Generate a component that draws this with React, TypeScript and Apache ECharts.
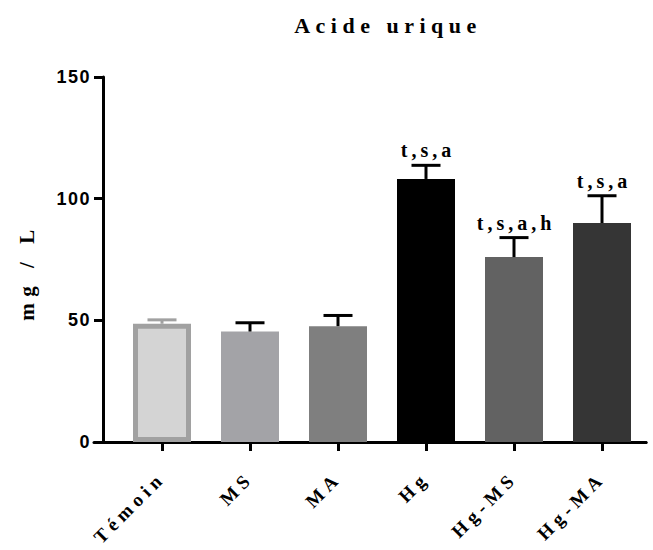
import React, { useEffect, useRef } from 'react';
import * as echarts from 'echarts';

const categories = ['Témoin', 'MS', 'MA', 'Hg', 'Hg-MS', 'Hg-MA'];
const means = [48.6, 45.4, 47.6, 108.1, 76.0, 90.0];
const errorTops = [50.2, 49.0, 52.0, 113.7, 84.0, 101.2];
const annotations = ['', '', '', 't,s,a', 't,s,a,h', 't,s,a'];
const barColors = ['#d4d4d4', '#a3a3a7', '#7f7f7f', '#000000', '#626262', '#353535'];
const yMin = 0;
const yMax = 150;
const yInterval = 50;

const css = `
.uric-chart text[style*="22px"] { letter-spacing: 5.5px; }
.uric-chart text[style*="21px"] { letter-spacing: 6.5px; }
.uric-chart text[style*="20px"] { letter-spacing: 4px; }
.uric-chart text[style*="19px"] { letter-spacing: 5px; }
.uric-chart text[style*="18px"] { letter-spacing: 1.5px; }
`;

export default function App() {
  const ref = useRef<HTMLDivElement>(null);
  useEffect(() => {
    document.body.style.margin = '0';
    const chart = echarts.init(ref.current!, undefined, { renderer: 'svg' });
    const serifBold = 'bold 20px "Liberation Serif"';
    chart.setOption({
      animation: false,
      backgroundColor: '#ffffff',
      title: {
        text: 'Acide urique',
        left: 383,
        top: 9,
        textAlign: 'center',
        textStyle: { fontFamily: 'Liberation Serif', fontWeight: 'bold', fontSize: 22, color: '#000' },
      },
      graphic: [
        {
          type: 'text',
          x: 27,
          y: 272,
          rotation: Math.PI / 2,
          style: {
            text: 'mg / L',
            align: 'center',
            verticalAlign: 'middle',
            font: 'bold 21px "Liberation Serif"',
            fill: '#000',
          },
        },
      ],
      grid: [
        { left: 118, right: 7, top: 77, bottom: 108 },
        { left: 94, right: 7, top: 77, bottom: 108 },
      ],
      xAxis: [
        {
          type: 'category',
          gridIndex: 0,
          data: categories,
          axisLine: { show: true, lineStyle: { color: '#000', width: 3 } },
          axisTick: { show: true, alignWithLabel: true, length: 9, lineStyle: { color: '#000', width: 3 } },
          axisLabel: {
            interval: 0,
            rotate: 45,
            margin: 33,
            color: '#000',
            fontFamily: 'Liberation Serif',
            fontWeight: 'bold',
            fontSize: 19,
          },
          splitLine: { show: false },
        },
        {
          type: 'value',
          gridIndex: 1,
          min: 0,
          max: 1,
          axisLine: { show: true, lineStyle: { color: '#000', width: 3 } },
          axisTick: { show: false },
          axisLabel: { show: false },
          splitLine: { show: false },
        },
      ],
      yAxis: [
        {
          type: 'value',
          gridIndex: 0,
          min: yMin,
          max: yMax,
          interval: yInterval,
          offset: 15,
          axisLine: { show: true, lineStyle: { color: '#000', width: 3 } },
          axisTick: { show: true, length: 9, lineStyle: { color: '#000', width: 3 } },
          axisLabel: {
            margin: 12,
            color: '#000',
            fontFamily: 'Liberation Sans',
            fontWeight: 'bold',
            fontSize: 18,
          },
          splitLine: { show: false },
        },
        { type: 'value', gridIndex: 1, show: false, min: 0, max: 1 },
      ],
      series: [
        {
          type: 'bar',
          xAxisIndex: 0,
          yAxisIndex: 0,
          barWidth: 58,
          data: means.map((v, i) => ({
            value: v,
            itemStyle:
              i === 0
                ? { color: barColors[i], borderColor: '#a1a1a1', borderWidth: 5 }
                : { color: barColors[i] },
          })),
          z: 2,
        },
        {
          type: 'custom',
          xAxisIndex: 0,
          yAxisIndex: 0,
          z: 3,
          data: errorTops.map((t, i) => [i, means[i], t]),
          renderItem: (params: any, api: any) => {
            const i = params.dataIndex;
            const x = api.value(0);
            const base = api.coord([x, api.value(1)]);
            const top = api.coord([x, api.value(2)]);
            const half = 14.5;
            const color = i === 0 ? '#a1a1a1' : '#000000';
            return {
              type: 'group',
              children: [
                {
                  type: 'line',
                  shape: { x1: base[0], y1: base[1], x2: top[0], y2: top[1] },
                  style: { stroke: color, lineWidth: 3 },
                },
                {
                  type: 'line',
                  shape: { x1: top[0] - half, y1: top[1], x2: top[0] + half, y2: top[1] },
                  style: { stroke: color, lineWidth: 3 },
                },
                {
                  type: 'text',
                  x: top[0] + 2,
                  y: top[1] - 5,
                  style: {
                    text: annotations[i],
                    align: 'center',
                    verticalAlign: 'bottom',
                    font: serifBold,
                    fill: '#000',
                  },
                },
              ],
            };
          },
        },
      ],
    });
    return () => chart.dispose();
  }, []);
  return (
    <>
      <style>{css}</style>
      <div className="uric-chart" ref={ref} style={{ width: 653, height: 550 }} />
    </>
  );
}
